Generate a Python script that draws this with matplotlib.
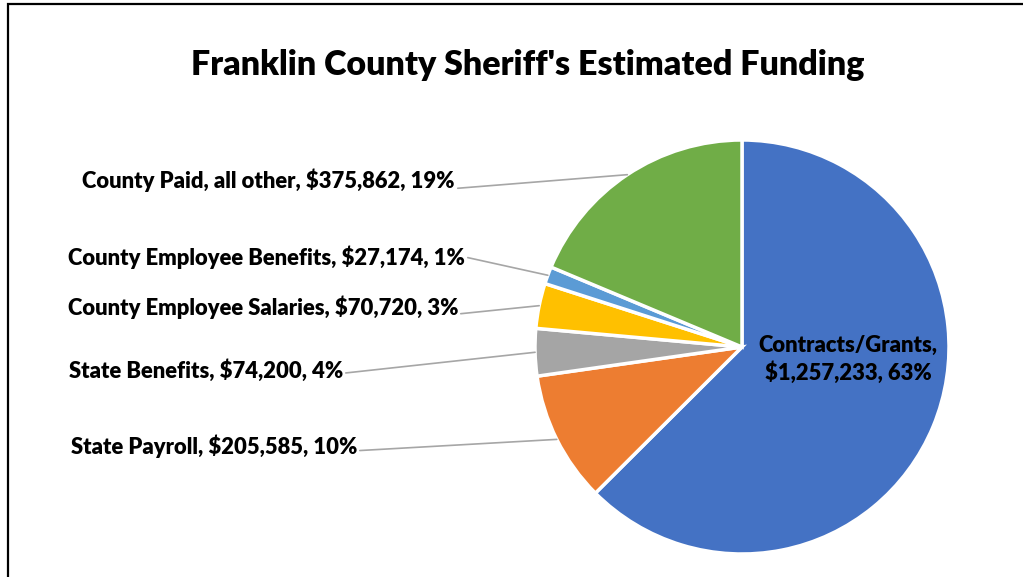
import numpy as np
import matplotlib.pyplot as plt
from matplotlib.patches import Rectangle

# data
categories = [
    "Contracts/Grants",
    "State Payroll",
    "State Benefits",
    "County Employee Salaries",
    "County Employee Benefits",
    "County Paid, all other",
]
amounts = [1257233, 205585, 74200, 70720, 27174, 375862]
percents = [63, 10, 4, 3, 1, 19]  # as shown on the chart
colors = ["#4472C4", "#ED7D31", "#A5A5A5", "#FFC000", "#5B9BD5", "#70AD47"]
title = "Franklin County Sheriff's Estimated Funding"

W, H = 1023, 577
plt.rcParams['font.family'] = ['Lato', 'DejaVu Sans']

fig = plt.figure(figsize=(W / 100, H / 100), dpi=100)
ax = fig.add_axes([0, 0, 1, 1])

cx, cy, r = 742, H - 347, 207
wedges, _ = ax.pie(amounts, colors=colors, startangle=90, counterclock=False,
                   center=(cx, cy), radius=r,
                   wedgeprops=dict(edgecolor='white', linewidth=2.5))
ax.set_xlim(0, W)
ax.set_ylim(0, H)
ax.set_aspect('equal')
ax.axis('off')


def label_text(i):
    return "{}, ${:,}, {}%".format(categories[i], amounts[i], percents[i])


# outside labels: (x of right edge, y in px from top, relpos of leader start)
outside = {
    5: (455, 180, (0.93, 0.05)),
    4: (465, 257, (1.0, 0.5)),
    3: (458, 307, (0.91, 0.05)),
    2: (343, 371, (1.0, 0.4)),
    1: (357, 446, (1.0, 0.3)),
}

for i, (tx, ty, rel) in outside.items():
    w = wedges[i]
    mid = np.deg2rad((w.theta1 + w.theta2) / 2)
    edge = (cx + r * np.cos(mid), cy + r * np.sin(mid))
    ax.annotate(label_text(i), xy=edge, xytext=(tx, H - ty),
                ha='right', va='center', fontsize=15.8, fontweight='heavy',
                arrowprops=dict(arrowstyle='-', color='#A6A6A6', lw=1.2,
                                relpos=rel, shrinkA=0, shrinkB=0))

ax.text(848, H - 359, "{},\n${:,}, {}%".format(categories[0], amounts[0], percents[0]),
        ha='center', va='center', fontsize=15.8, fontweight='heavy',
        linespacing=1.3)

ax.text(528, H - 65, title, ha='center', va='center', fontsize=24.5,
        fontweight='heavy')

# chart border (only left and top edges are visible in the crop)
fig.patches.append(Rectangle((8 / W, -0.1), 1.2, 1 - 4 / H + 0.1,
                             transform=fig.transFigure, fill=False,
                             edgecolor='black', linewidth=1.6))

fig.savefig('out.png', dpi=100)
